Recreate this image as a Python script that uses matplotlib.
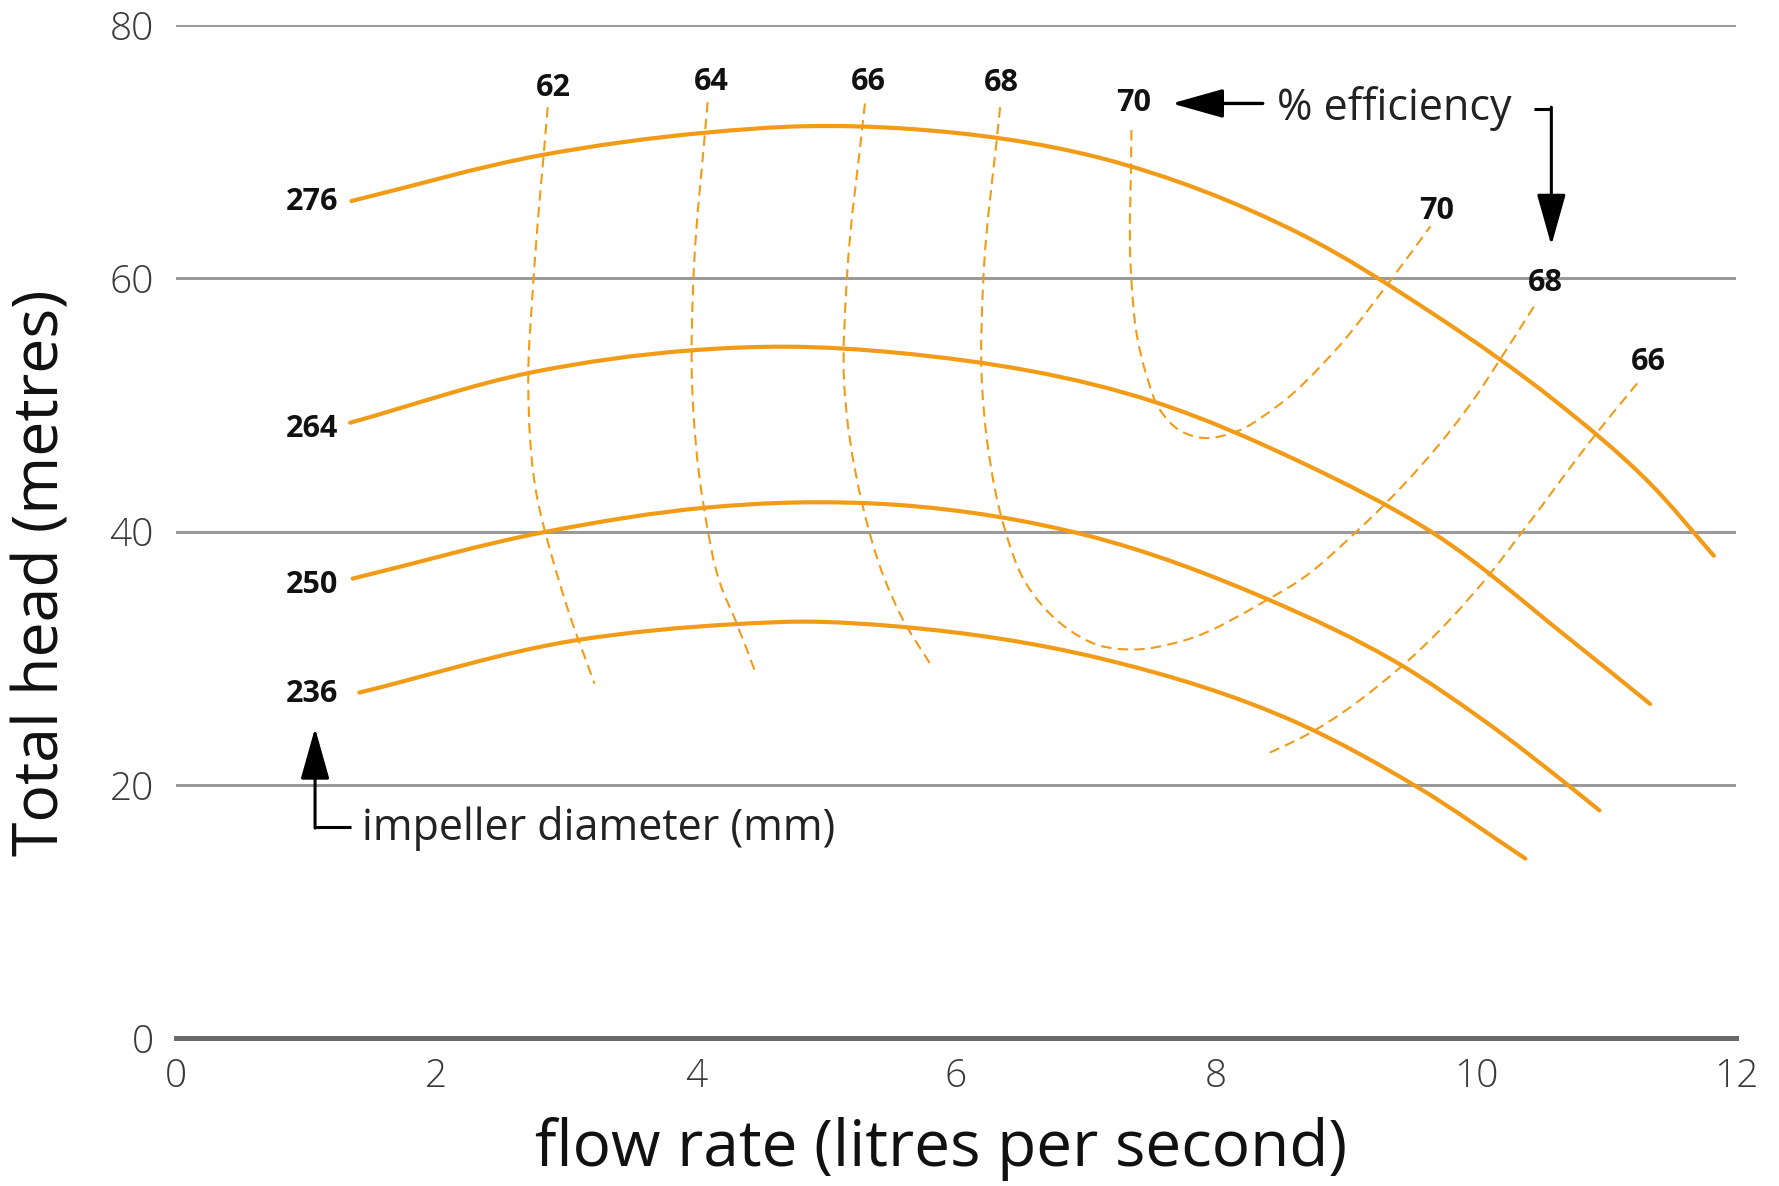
import matplotlib
matplotlib.use("Agg")
import matplotlib.pyplot as plt
from matplotlib.path import Path
from matplotlib.patches import PathPatch

plt.rcParams['font.family'] = ['Open Sans', 'DejaVu Sans']

# ---- data (flow l/s, head m) ----
diam_labels = ["276", "264", "250", "236"]
h276_x = [1.35, 2.80, 4.08, 4.83, 5.63, 7.11, 8.65, 9.67, 10.60, 11.34, 11.83]
h276_y = [66.1, 69.7, 71.5, 72.0, 71.8, 69.5, 63.5, 57.2, 50.4, 43.8, 38.1]
h264_x = [1.34, 2.75, 3.95, 4.70, 5.57, 7.54, 8.65, 9.67, 10.70, 11.34]
h264_y = [48.6, 52.6, 54.3, 54.6, 54.1, 50.2, 45.5, 39.9, 31.7, 26.4]
h250_x = [1.36, 2.85, 4.08, 4.75, 5.57, 7.01, 8.39, 9.42, 10.06, 10.72, 10.95]
h250_y = [36.3, 40.0, 41.9, 42.3, 42.1, 39.7, 34.7, 29.5, 25.1, 19.9, 18.0]
h236_x = [1.41, 3.06, 4.30, 4.83, 5.57, 7.11, 8.65, 9.54, 10.38]
h236_y = [27.3, 31.4, 32.7, 32.9, 32.5, 30.0, 24.8, 19.9, 14.2]
diam_label_y = [66.0, 48.1, 35.8, 27.2]

# efficiency contours
e62_x = [2.86, 2.75, 2.71, 2.78, 2.89, 3.02, 3.22]
e62_y = [73.5, 59.8, 51.7, 42.6, 38.1, 33.7, 28.0]
e64_x = [4.09, 3.98, 3.97, 4.06, 4.20, 4.30, 4.45]
e64_y = [73.9, 59.8, 51.7, 42.0, 35.5, 33.1, 29.1]
e66_x = [5.30, 5.16, 5.14, 5.27, 5.45, 5.59, 5.80]
e66_y = [73.8, 59.8, 51.7, 42.6, 36.3, 33.1, 29.6]
e68_x = [6.34, 6.21, 6.20, 6.25, 6.37, 6.54, 6.80, 7.11, 7.36, 7.75, 8.39, 8.65, 9.07, 9.98, 10.18, 10.46]
e68_y = [73.5, 59.8, 51.7, 46.4, 40.4, 35.9, 32.8, 31.0, 30.7, 31.4, 34.6, 36.2, 39.9, 50.4, 53.5, 58.0]
e70_x = [7.35, 7.35, 7.39, 7.47, 7.57, 7.72, 7.90, 8.13, 8.47, 8.90, 9.34, 9.65]
e70_y = [71.7, 59.8, 55.6, 52.2, 49.6, 48.0, 47.4, 47.8, 49.9, 54.1, 59.8, 64.1]
e66r_x = [11.24, 10.93, 10.35, 10.11, 9.42, 8.65, 8.40]
e66r_y = [51.7, 47.8, 39.9, 36.7, 29.3, 23.7, 22.5]

eff_labels = ["62", "64", "66", "68", "70", "70", "68", "66"]
eff_label_x = [2.90, 4.12, 5.33, 6.35, 7.37, 9.70, 10.53, 11.33]
eff_label_y = [75.0, 75.5, 75.5, 75.4, 73.8, 65.3, 59.6, 53.4]

x_ticks = [0, 2, 4, 6, 8, 10, 12]
y_ticks = [0, 20, 40, 60, 80]

ORANGE = '#F29B16'


def smooth_path(xs, ys, sx=130.0, sy=12.665):
    """Cubic Bezier path through the given points (chord-length Hermite)."""
    n = len(xs)
    P = [(x * sx, y * sy) for x, y in zip(xs, ys)]
    h = [max(((P[i + 1][0] - P[i][0]) ** 2 + (P[i + 1][1] - P[i][1]) ** 2) ** 0.5, 1e-9)
         for i in range(n - 1)]
    D = []
    for i in range(n):
        if i == 0:
            d = ((P[1][0] - P[0][0]) / h[0], (P[1][1] - P[0][1]) / h[0])
        elif i == n - 1:
            d = ((P[i][0] - P[i - 1][0]) / h[i - 1], (P[i][1] - P[i - 1][1]) / h[i - 1])
        else:
            a, b = h[i - 1], h[i]
            d = tuple(((P[i + 1][k] - P[i][k]) / b * a + (P[i][k] - P[i - 1][k]) / a * b) / (a + b)
                      for k in range(2))
        D.append(d)
    verts = [(xs[0], ys[0])]
    codes = [Path.MOVETO]
    for i in range(n - 1):
        c1 = (P[i][0] + D[i][0] * h[i] / 3, P[i][1] + D[i][1] * h[i] / 3)
        c2 = (P[i + 1][0] - D[i + 1][0] * h[i] / 3, P[i + 1][1] - D[i + 1][1] * h[i] / 3)
        verts += [(c1[0] / sx, c1[1] / sy), (c2[0] / sx, c2[1] / sy), (xs[i + 1], ys[i + 1])]
        codes += [Path.CURVE4] * 3
    return Path(verts, codes)


fig = plt.figure(figsize=(17.79, 11.86), dpi=100)
ax = fig.add_axes([0.0989, 0.1244, 0.8769, 0.8546])
ax.set_xlim(0, 12)
ax.set_ylim(0, 80)
for s in ax.spines.values():
    s.set_visible(False)

for yv in y_ticks[1:]:
    ax.axhline(yv, color='#9a9a9a', lw=2.2, zorder=1)
ax.axhline(0, color='#6a6a6a', lw=3.6, zorder=1, clip_on=False)

ax.set_xticks(x_ticks)
ax.set_yticks(y_ticks)
ax.tick_params(length=0, labelsize=28, labelcolor='#3a3a3a')
ax.tick_params(axis='x', pad=14)
ax.tick_params(axis='y', pad=16)
for lab in ax.get_xticklabels() + ax.get_yticklabels():
    lab.set_fontweight('light')

# head curves
for xs, ys in [(h276_x, h276_y), (h264_x, h264_y), (h250_x, h250_y), (h236_x, h236_y)]:
    ax.add_patch(PathPatch(smooth_path(xs, ys), fill=False, edgecolor=ORANGE, lw=3.0,
                           capstyle='round', joinstyle='round', zorder=3))

for lab, yv in zip(diam_labels, diam_label_y):
    ax.text(1.25, yv, lab, ha='right', va='center', fontsize=22, fontweight='bold', color='#111111')

# efficiency contours
for xs, ys in [(e62_x, e62_y), (e64_x, e64_y), (e66_x, e66_y), (e68_x, e68_y), (e70_x, e70_y), (e66r_x, e66r_y)]:
    ax.add_patch(PathPatch(smooth_path(xs, ys), fill=False, edgecolor=ORANGE, lw=1.5,
                           linestyle=(0, (5, 3)), zorder=2))

for lab, xv, yv in zip(eff_labels, eff_label_x, eff_label_y):
    ax.text(xv, yv, lab, ha='center', va='center', fontsize=22, fontweight='bold', color='#111111')

# annotations
head = '-|>,head_length=3.2,head_width=0.9'
ax.annotate('', xy=(7.66, 73.8), xytext=(8.36, 73.8),
            arrowprops=dict(arrowstyle=head, color='black', lw=2.4, shrinkA=0, shrinkB=0))
ax.text(8.47, 73.4, '% efficiency', ha='left', va='center', fontsize=31, color='#222222')
ax.plot([10.45, 10.58], [73.4, 73.4], color='black', lw=2.2, zorder=4, solid_capstyle='butt')
ax.annotate('', xy=(10.58, 62.6), xytext=(10.58, 73.5),
            arrowprops=dict(arrowstyle=head, color='black', lw=2.2, shrinkA=0, shrinkB=0))

ax.plot([1.07, 1.35], [16.7, 16.7], color='black', lw=2.2, zorder=4, solid_capstyle='butt')
ax.annotate('', xy=(1.07, 24.5), xytext=(1.07, 16.6),
            arrowprops=dict(arrowstyle=head, color='black', lw=2.2, shrinkA=0, shrinkB=0))
ax.text(1.43, 16.6, 'impeller diameter (mm)', ha='left', va='center', fontsize=31, color='#222222')

fig.text(0.529, 0.031, 'flow rate (litres per second)', ha='center', va='center', fontsize=46, color='#111111')
fig.text(0.024, 0.517, 'Total head (metres)', ha='center', va='center', rotation=90, fontsize=45, color='#111111')

fig.savefig('out.png', dpi=100)
